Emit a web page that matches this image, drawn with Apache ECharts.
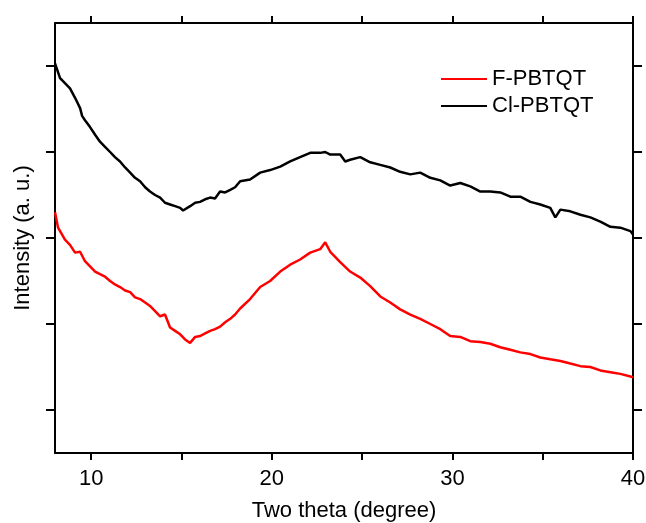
<!DOCTYPE html>
<html>
<head>
    <meta charset="utf-8">
    <script src="https://cdn.jsdelivr.net/npm/echarts@6/dist/echarts.min.js"></script>
    <style>
        html, body { margin: 0; padding: 0; background: #fff; }
    </style>
</head>
<body>
<div id="main" style="width: 646px;height:523px;"></div>

<script type="text/javascript">

    // Cl-PBTQT (black) - two theta / intensity (a. u.)
    var clX = [8.00, 8.28, 8.55, 8.83, 9.11, 9.39, 9.50, 9.66, 9.94, 10.22, 10.49, 10.77, 11.05, 11.32, 11.60, 11.88,
        12.16, 12.43, 12.71, 12.99, 13.26, 13.54, 13.82, 14.09, 14.37, 14.65, 14.93, 15.09, 15.48, 15.76, 16.03, 16.31,
        16.59, 16.86, 17.14, 17.42, 17.70, 17.97, 18.25, 18.80, 19.36, 19.91, 20.47, 21.02, 21.57, 22.13, 22.68, 22.96,
        23.24, 23.79, 24.07, 24.34, 24.90, 25.45, 26.01, 26.56, 27.11, 27.67, 28.22, 28.78, 29.33, 29.88, 30.44, 30.99,
        31.55, 32.10, 32.65, 33.21, 33.76, 34.32, 34.87, 35.42, 35.70, 35.98, 36.53, 37.09, 37.64, 38.19, 38.75, 39.30,
        39.86, 40.00];
    var clY = [5.03, 4.86, 4.80, 4.74, 4.63, 4.51, 4.42, 4.37, 4.29, 4.20, 4.12, 4.06, 4.00, 3.94, 3.89, 3.82,
        3.76, 3.70, 3.66, 3.59, 3.54, 3.50, 3.47, 3.41, 3.39, 3.37, 3.35, 3.32, 3.37, 3.41, 3.42, 3.45,
        3.47, 3.46, 3.54, 3.53, 3.56, 3.59, 3.66, 3.68, 3.76, 3.79, 3.83, 3.89, 3.94, 3.99, 3.99, 4.00,
        3.97, 3.97, 3.89, 3.91, 3.94, 3.88, 3.85, 3.82, 3.77, 3.74, 3.76, 3.70, 3.67, 3.61, 3.64, 3.60,
        3.54, 3.54, 3.53, 3.48, 3.48, 3.42, 3.39, 3.35, 3.24, 3.33, 3.31, 3.27, 3.24, 3.19, 3.13, 3.12,
        3.08, 3.04];

    // F-PBTQT (red)
    var fX = [8.00, 8.17, 8.55, 8.83, 9.11, 9.39, 9.66, 9.94, 10.22, 10.49, 10.77, 11.05, 11.32, 11.60, 11.88, 12.16,
        12.43, 12.71, 12.99, 13.26, 13.54, 13.82, 14.09, 14.37, 14.65, 14.93, 15.20, 15.48, 15.76, 16.03, 16.31, 16.59,
        16.86, 17.14, 17.42, 17.70, 17.97, 18.25, 18.80, 19.36, 19.91, 20.47, 21.02, 21.57, 22.13, 22.68, 22.96, 23.24,
        23.79, 24.34, 24.90, 25.45, 26.01, 26.56, 27.11, 27.67, 28.22, 28.78, 29.33, 29.88, 30.44, 30.99, 31.55, 32.10,
        32.65, 33.21, 33.76, 34.32, 34.87, 35.42, 35.98, 36.53, 37.09, 37.64, 38.19, 38.75, 39.30, 39.86, 40.00];
    var fY = [3.30, 3.12, 2.98, 2.92, 2.83, 2.84, 2.73, 2.67, 2.61, 2.58, 2.55, 2.50, 2.46, 2.43, 2.39, 2.37,
        2.31, 2.29, 2.25, 2.21, 2.15, 2.09, 2.11, 1.96, 1.92, 1.88, 1.82, 1.78, 1.85, 1.86, 1.89, 1.92,
        1.94, 1.97, 2.02, 2.06, 2.11, 2.18, 2.29, 2.43, 2.50, 2.61, 2.69, 2.75, 2.83, 2.87, 2.95, 2.84,
        2.72, 2.61, 2.54, 2.44, 2.32, 2.25, 2.17, 2.11, 2.06, 2.00, 1.94, 1.86, 1.85, 1.80, 1.79, 1.77,
        1.73, 1.70, 1.67, 1.65, 1.61, 1.59, 1.57, 1.54, 1.51, 1.50, 1.46, 1.44, 1.42, 1.39, 1.38];

    var xLabels = [10, 20, 30, 40];
    var xTicks = [10, 15, 20, 25, 30, 35, 40];
    var yTicks = [1, 2, 3, 4, 5];

    var fontFam = 'Arial, "Liberation Sans", sans-serif';

    function pairs(xs, ys) {
        var out = [];
        for (var i = 0; i < xs.length; i++) {
            out.push([xs[i], ys[i]]);
        }
        return out;
    }

    // x 轴 (上/下); 上轴标签透明, 只为保留全部刻度
    function xAxisCfg(pos, labelColor) {
        return {
            type: 'value',
            position: pos,
            min: 8,
            max: 40,
            splitLine: {show: false},
            axisLine: {lineStyle: {color: '#000', width: 2}},
            axisTick: {customValues: xTicks, length: 7, lineStyle: {color: '#000', width: 2}},
            axisLabel: {show: true, customValues: xLabels, color: labelColor, fontSize: 22, fontFamily: fontFam, margin: 15}
        };
    }
    function yAxisCfg(pos) {
        return {
            type: 'value',
            position: pos,
            min: 0.5,
            max: 5.5,
            splitLine: {show: false},
            axisLine: {lineStyle: {color: '#000', width: 2}},
            axisTick: {customValues: yTicks, length: 9, lineStyle: {color: '#000', width: 2}},
            axisLabel: {show: false, customValues: yTicks}
        };
    }

    var xBottom = xAxisCfg('bottom', '#000');
    xBottom.name = 'Two theta (degree)';
    xBottom.nameLocation = 'middle';
    xBottom.nameGap = 47;
    xBottom.nameTextStyle = {color: '#000', fontSize: 22, fontFamily: fontFam};

    var yLeft = yAxisCfg('left');
    yLeft.name = 'Intensity (a. u.)';
    yLeft.nameLocation = 'middle';
    yLeft.nameGap = 21;
    yLeft.nameTextStyle = {color: '#000', fontSize: 22, fontFamily: fontFam};

    var myChart = echarts.init(document.getElementById('main'));

    var option = {
        animation: false,
        backgroundColor: '#fff',
        grid: {left: 55, right: 13, top: 23, bottom: 70, outerBoundsMode: 'none'},
        legend: {
            orient: 'vertical',
            left: 441,
            top: 68,
            padding: 0,
            itemWidth: 46,
            itemHeight: 2,
            itemGap: 5,
            icon: 'rect',
            textStyle: {color: '#000', fontSize: 22, fontFamily: fontFam, lineHeight: 22},
            data: ['F-PBTQT', 'Cl-PBTQT']
        },
        xAxis: [
            xBottom,
            xAxisCfg('top', 'rgba(0,0,0,0)')
        ],
        yAxis: [
            yLeft,
            yAxisCfg('right')
        ],
        series: [
            {
                name: 'F-PBTQT',
                type: 'line',
                xAxisIndex: 0,
                yAxisIndex: 0,
                symbol: 'none',
                color: '#ff0000',
                lineStyle: {color: '#ff0000', width: 2.5},
                data: pairs(fX, fY)
            },
            {
                name: 'Cl-PBTQT',
                type: 'line',
                xAxisIndex: 0,
                yAxisIndex: 0,
                symbol: 'none',
                color: '#000000',
                lineStyle: {color: '#000000', width: 2.5},
                data: pairs(clX, clY)
            }
        ]
    };
    myChart.setOption(option);

</script>
</body>
</html>
